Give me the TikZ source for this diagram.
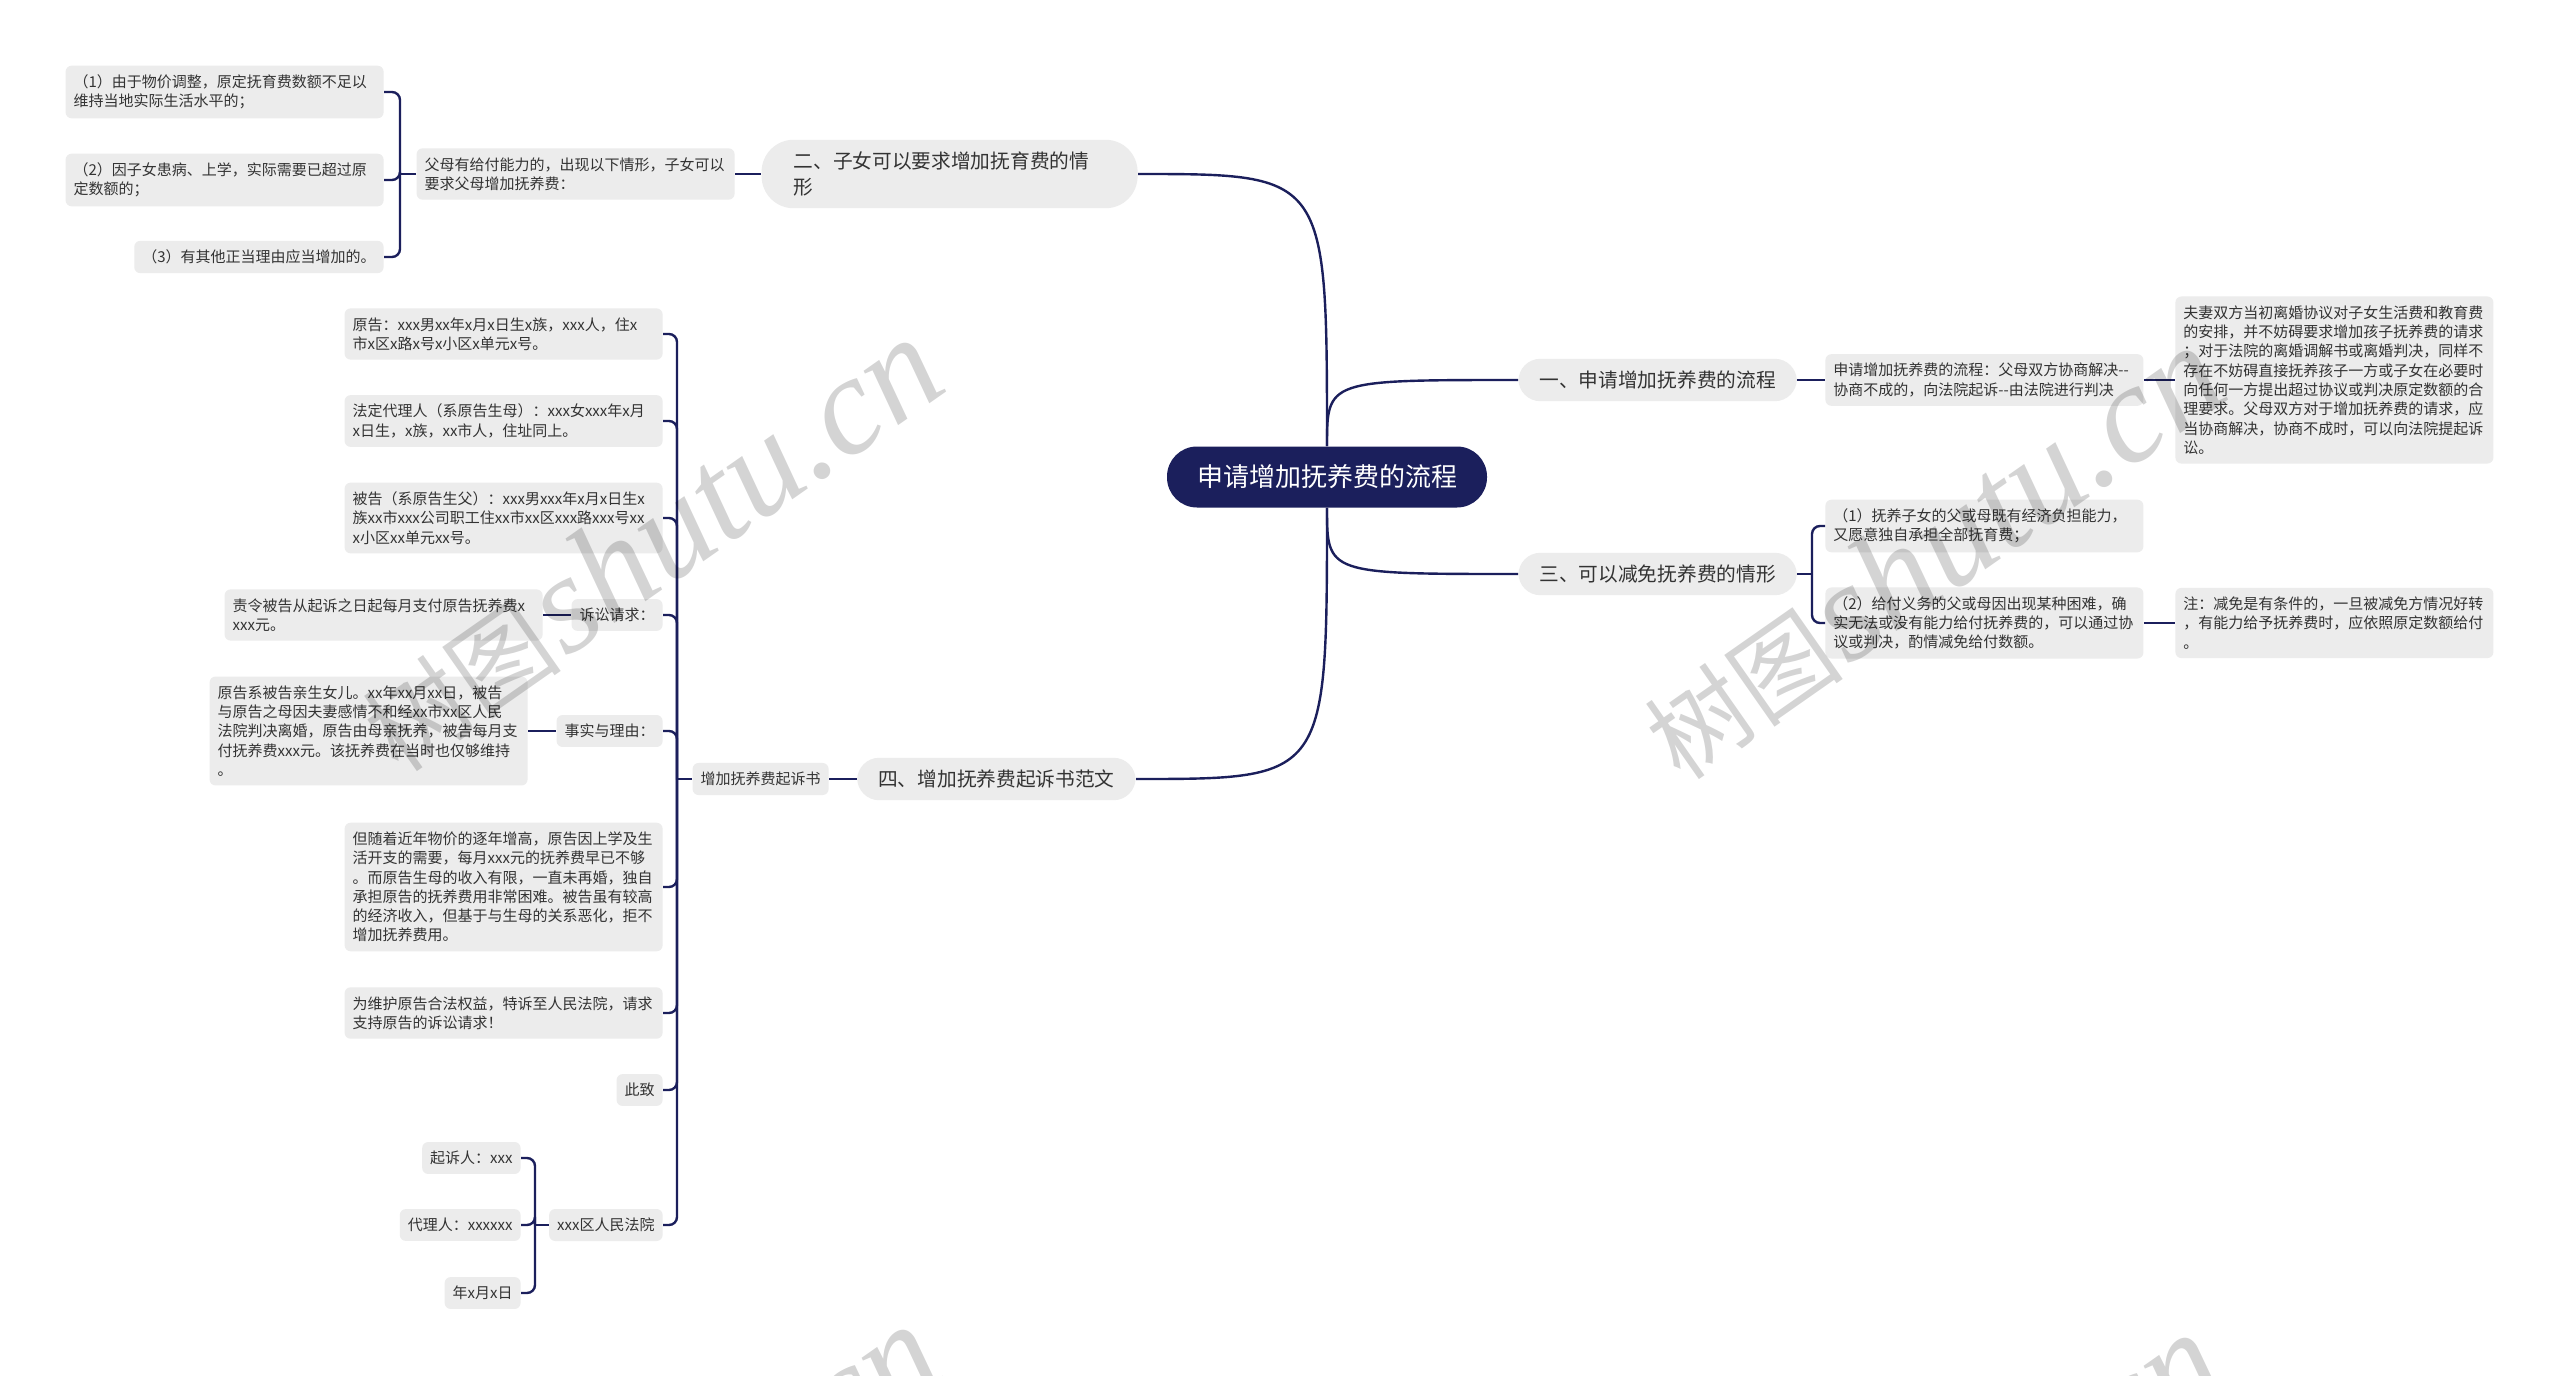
\documentclass[tikz,border=0pt]{standalone}
\usepackage{fontspec}
\setmainfont{Noto Sans CJK SC}
\newfontfamily\wmserif{Liberation Serif}
\newcommand\twohyph{-\kern0pt-}
\definecolor{navy}{RGB}{27,31,92}
\definecolor{boxgray}{RGB}{236,236,236}
\definecolor{txt}{RGB}{51,51,51}
\tikzset{
 conn/.style={draw=navy, line width=1.2pt},
 leaf/.style={fill=boxgray, text=txt, rounded corners=3pt, inner xsep=4pt, inner ysep=4.5pt, font=\fontsize{7.5}{9.65}\selectfont, align=left},
 wide/.style={leaf, text width=151pt},
 branch/.style={fill=boxgray, text=txt, rounded corners=11pt, inner xsep=10.5pt, inner ysep=6pt, font=\fontsize{9.85}{13}\selectfont, align=left},
 rootbox/.style={fill=navy, text=white, rounded corners=15pt, inner xsep=15pt, minimum height=30.5pt, font=\fontsize{13}{15}\selectfont},
 wm/.style={text=black, text opacity=0.17, inner sep=0pt, rotate=35},
 brk/.style={conn, rounded corners=4pt},
}
\begin{document}
\begin{tikzpicture}[x=0.5pt,y=-0.5pt]
\useasboundingbox (0,0) rectangle (2560,1376);
\fill[white] (0,0) rectangle (2560,1376);

% root
\node[rootbox] (root) at (1327,477) {申请增加抚养费的流程};

% right side
\node[branch, anchor=west] (b1) at (1518,380) {一、申请增加抚养费的流程};
\node[wide, anchor=west] (b1a) at (1825,380) {申请增加抚养费的流程：父母双方协商解决\twohyph\\协商不成的，向法院起诉\twohyph 由法院进行判决};
\node[wide, anchor=west] (b1b) at (2175,380) {夫妻双方当初离婚协议对子女生活费和教育费\\的安排，并不妨碍要求增加孩子抚养费的请求\\；对于法院的离婚调解书或离婚判决，同样不\\存在不妨碍直接抚养孩子一方或子女在必要时\\向任何一方提出超过协议或判决原定数额的合\\理要求。父母双方对于增加抚养费的请求，应\\当协商解决，协商不成时，可以向法院提起诉\\讼。};
\node[branch, anchor=west] (b3) at (1518,574) {三、可以减免抚养费的情形};
\node[wide, anchor=west] (b3a) at (1825,526) {（1）抚养子女的父或母既有经济负担能力，\\又愿意独自承担全部抚育费；};
\node[wide, anchor=west] (b3b) at (1825,623) {（2）给付义务的父或母因出现某种困难，确\\实无法或没有能力给付抚养费的，可以通过协\\议或判决，酌情减免给付数额。};
\node[wide, anchor=west] (b3c) at (2175,623) {注：减免是有条件的，一旦被减免方情况好转\\，有能力给予抚养费时，应依照原定数额给付\\。};

% left side, branch 2
\node[branch, anchor=east, text width=156pt, inner xsep=16pt, rounded corners=16pt] (b2) at (1138,174) {二、子女可以要求增加抚育费的情\\形};
\node[wide, anchor=east] (b2a) at (735,174) {父母有给付能力的，出现以下情形，子女可以\\要求父母增加抚养费：};
\node[wide, anchor=east] (b2a1) at (384,92) {（1）由于物价调整，原定抚育费数额不足以\\维持当地实际生活水平的；};
\node[wide, anchor=east] (b2a2) at (384,180) {（2）因子女患病、上学，实际需要已超过原\\定数额的；};
\node[leaf, anchor=east] (b2a3) at (384,257) {（3）有其他正当理由应当增加的。};

% left side, branch 4
\node[branch, anchor=east] (b4) at (1136,779) {四、增加抚养费起诉书范文};
\node[leaf, anchor=east] (b4a) at (829,779) {增加抚养费起诉书};
\node[wide, anchor=east] (c1) at (663,334) {原告：xxx男xx年x月x日生x族，xxx人，住x\\市x区x路x号x小区x单元x号。};
\node[wide, anchor=east] (c2) at (663,421) {法定代理人（系原告生母）：xxx女xxx年x月\\x日生，x族，xx市人，住址同上。};
\node[wide, anchor=east] (c3) at (663,518) {被告（系原告生父）：xxx男xxx年x月x日生x\\族xx市xxx公司职工住xx市xx区xxx路xxx号xx\\x小区xx单元xx号。};
\node[leaf, anchor=east] (c4) at (663,615) {诉讼请求：};
\node[wide, anchor=east] (c4a) at (543,615) {责令被告从起诉之日起每月支付原告抚养费x\\xxx元。};
\node[leaf, anchor=east] (c5) at (663,731) {事实与理由：};
\node[wide, anchor=east] (c5a) at (528,731) {原告系被告亲生女儿。xx年xx月xx日，被告\\与原告之母因夫妻感情不和经xx市xx区人民\\法院判决离婚，原告由母亲抚养，被告每月支\\付抚养费xxx元。该抚养费在当时也仅够维持\\。};
\node[wide, anchor=east] (c6) at (663,887) {但随着近年物价的逐年增高，原告因上学及生\\活开支的需要，每月xxx元的抚养费早已不够\\。而原告生母的收入有限，一直未再婚，独自\\承担原告的抚养费用非常困难。被告虽有较高\\的经济收入，但基于与生母的关系恶化，拒不\\增加抚养费用。};
\node[wide, anchor=east] (c7) at (663,1013) {为维护原告合法权益，特诉至人民法院，请求\\支持原告的诉讼请求！};
\node[leaf, anchor=east] (c8) at (663,1090) {此致};
\node[leaf, anchor=east] (c9) at (663,1225) {xxx区人民法院};
\node[leaf, anchor=east] (c9a) at (521,1158) {起诉人：xxx};
\node[leaf, anchor=east] (c9b) at (521,1225) {代理人：xxxxxx};
\node[leaf, anchor=east] (c9c) at (521,1293) {年x月x日};

% root connectors
\draw[conn] (root.north) .. controls (root.north |- b2.east) .. (b2.east);
\draw[conn] (root.north) .. controls (root.north |- b1.west) .. (b1.west);
\draw[conn] (root.south) .. controls (root.south |- b3.west) .. (b3.west);
\draw[conn] (root.south) .. controls (root.south |- b4.east) .. (b4.east);

% straight connectors
\draw[conn] (b1.east) -- (b1a.west);
\draw[conn] (b1a.east) -- (b1b.west);
\draw[conn] (b3b.east) -- (b3b.east -| b3c.west);
\draw[conn] (b2a.east) -- (b2a.east -| b2.west);
\draw[conn] (b4a.east) -- (b4.west);
\draw[conn] (c4a.east) -- (c4.west);
\draw[conn] (c5a.east) -- (c5.west);

% brackets
\coordinate (k3) at (1812,574);
\draw[conn] (b3.east) -- (k3);
\draw[brk] (k3) |- (b3a.west);
\draw[brk] (k3) |- (b3b.west);

\coordinate (k2) at (400,174);
\draw[conn] (b2a.west) -- (k2);
\foreach \c in {b2a1,b2a2,b2a3} \draw[brk] (k2) |- (\c.east);

\coordinate (k4) at (677,779);
\draw[conn] (b4a.west) -- (k4);
\foreach \c in {c1,c2,c3,c4,c5,c6,c7,c8,c9} \draw[brk] (k4) |- (\c.east);

\coordinate (k9) at (535,1225);
\draw[conn] (c9.west) -- (k9);
\foreach \c in {c9a,c9b,c9c} \draw[brk] (k9) |- (\c.east);

% watermarks
\begin{scope}
\clip (0,0) rectangle (2560,1376);
\node[wm] (wm1) at (650,545) {{\fontsize{50}{50}\selectfont 树图}\,{\wmserif\itshape\fontsize{70}{70}\selectfont shutu.cn}};
\node[wm] (wm2) at (1932,553) {{\fontsize{50}{50}\selectfont 树图}\,{\wmserif\itshape\fontsize{70}{70}\selectfont shutu.cn}};
\node[wm] (wm3) at (648,1532) {{\fontsize{50}{50}\selectfont 树图}\,{\wmserif\itshape\fontsize{70}{70}\selectfont shutu.cn}};
\node[wm] (wm4) at (1930,1540) {{\fontsize{50}{50}\selectfont 树图}\,{\wmserif\itshape\fontsize{70}{70}\selectfont shutu.cn}};
\end{scope}
\end{tikzpicture}
\end{document}
